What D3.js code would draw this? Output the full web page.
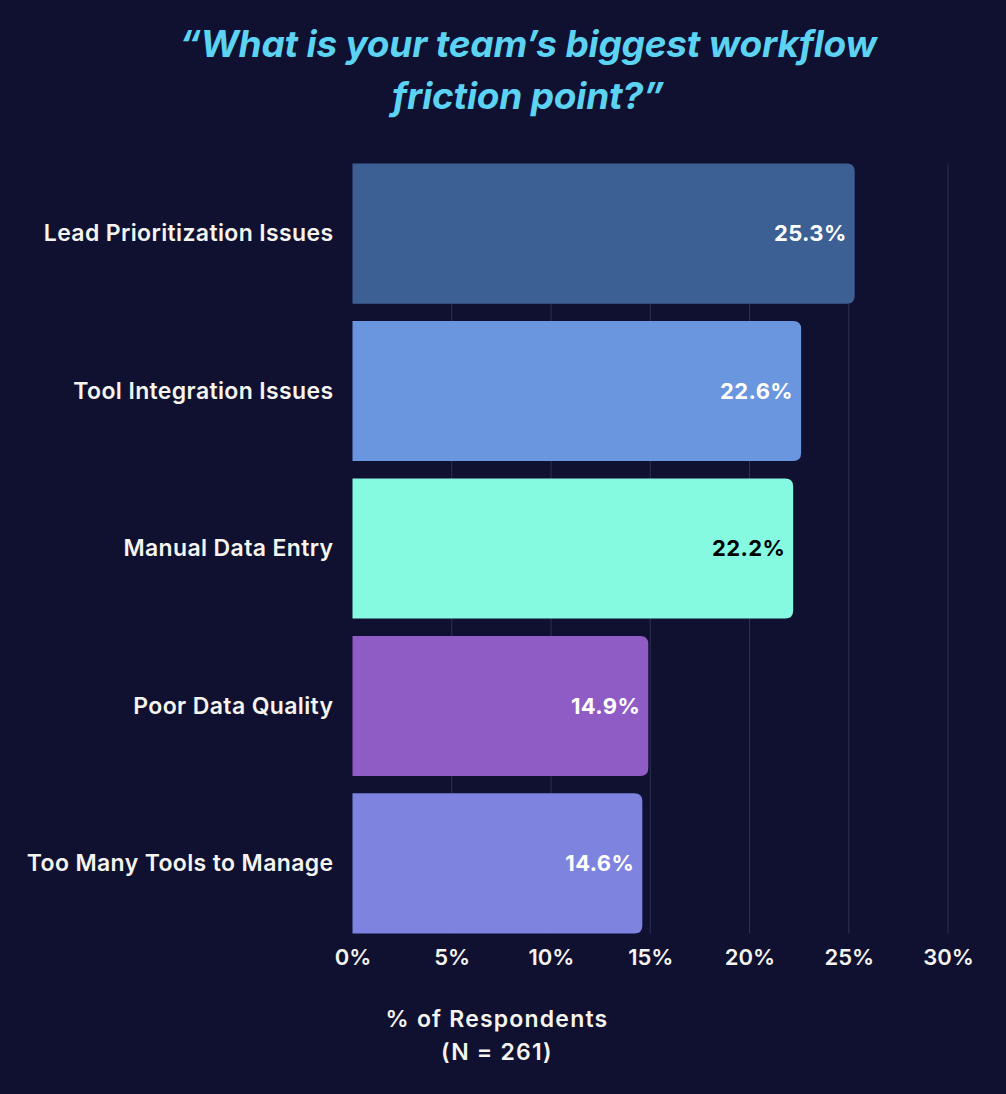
<!DOCTYPE html>
<html>
<head>
<meta charset="utf-8">
<script src="https://cdn.jsdelivr.net/npm/d3@7"></script>
<style>
  html, body { margin: 0; padding: 0; background: #101131; }
  svg { display: block; }
</style>
</head>
<body>
<svg id="chart" width="1006" height="1094"></svg>
<script>
const categories = ["Lead Prioritization Issues", "Tool Integration Issues", "Manual Data Entry", "Poor Data Quality", "Too Many Tools to Manage"];
const values = [25.3, 22.6, 22.2, 14.9, 14.6];
const barColors = ["#3C5F94", "#6A95DF", "#86F9E1", "#8F5BC5", "#7E83E0"];
const valueLabelColors = ["#ffffff", "#ffffff", "#000000", "#ffffff", "#ffffff"];
const tickValues = [0, 5, 10, 15, 20, 25, 30];
const tickLabels = ["0%", "5%", "10%", "15%", "20%", "25%", "30%"];
const titleLines = ["\u201CWhat is your team\u2019s biggest workflow", "friction point?\u201D"];
const axisTitleLines = ["% of Respondents", "(N = 261)"];

const font = "Inter, 'Noto Sans', sans-serif";
const svg = d3.select("#chart");
svg.append("rect").attr("width", 1006).attr("height", 1094).attr("fill", "#101131");

const x = d3.scaleLinear().domain([0, 30]).range([352.5, 948]);
const y = d3.scaleBand().domain(categories).range([163.5, 933.5]).paddingInner(0.11).paddingOuter(0);

// title
svg.append("g").selectAll("text").data(titleLines).join("text")
  .attr("x", 528).attr("y", (d, i) => 57 + i * 52)
  .attr("text-anchor", "middle")
  .attr("font-family", font).attr("font-weight", 700).attr("font-style", "italic")
  .attr("font-size", 37).attr("fill", "#5CD3F2").attr("letter-spacing", -0.2)
  .text(d => d);

// gridlines
svg.append("g").selectAll("line").data(tickValues.filter(v => v > 0)).join("line")
  .attr("x1", d => x(d)).attr("x2", d => x(d))
  .attr("y1", y.range()[0]).attr("y2", y.range()[1])
  .attr("stroke", "#2E3050").attr("stroke-width", 1);

// bars with rounded right corners
const r = 8;
function barPath(x0, x1, y0, h) {
  const rr = Math.min(r, (x1 - x0));
  return `M${x0},${y0} H${x1 - rr} Q${x1},${y0} ${x1},${y0 + rr} V${y0 + h - rr} Q${x1},${y0 + h} ${x1 - rr},${y0 + h} H${x0} Z`;
}
svg.append("g").selectAll("path").data(categories).join("path")
  .attr("d", (d, i) => barPath(x(0), x(values[i]), y(d), y.bandwidth()))
  .attr("fill", (d, i) => barColors[i]);

// value labels
svg.append("g").selectAll("text").data(categories).join("text")
  .attr("x", (d, i) => x(values[i]) - 8)
  .attr("y", d => y(d) + y.bandwidth() / 2)
  .attr("dy", "0.36em")
  .attr("text-anchor", "end")
  .attr("font-family", font).attr("font-weight", 700).attr("font-size", 22)
  .attr("letter-spacing", 0.4)
  .attr("fill", (d, i) => valueLabelColors[i])
  .text((d, i) => values[i].toFixed(1) + "%");

// category labels (y axis)
const yAxis = d3.axisLeft(y).tickSize(0).tickPadding(19);
const yg = svg.append("g").attr("transform", `translate(${x(0)},0)`).call(yAxis);
yg.select(".domain").remove();
yg.selectAll("text")
  .attr("font-family", font).attr("font-weight", 600).attr("font-size", 23)
  .attr("letter-spacing", 0.37)
  .attr("fill", "#F5F4EF").attr("dy", "0.34em");

// x axis
const xAxis = d3.axisBottom(x).tickValues(tickValues).tickFormat((d, i) => tickLabels[i]).tickSize(0).tickPadding(0);
const xg = svg.append("g").attr("transform", `translate(0,949)`).call(xAxis);
xg.select(".domain").remove();
xg.selectAll("text")
  .attr("font-family", font).attr("font-weight", 600).attr("font-size", 22)
  .attr("letter-spacing", 0)
  .attr("fill", "#F5F4EF").attr("dy", "0.71em");

// axis title
svg.append("g").selectAll("text").data(axisTitleLines).join("text")
  .attr("x", 497).attr("y", (d, i) => 1027 + i * 33)
  .attr("text-anchor", "middle")
  .attr("font-family", font).attr("font-weight", 600).attr("font-size", 23)
  .attr("letter-spacing", 1.2)
  .attr("fill", "#F5F4EF")
  .text(d => d);
</script>
</body>
</html>
